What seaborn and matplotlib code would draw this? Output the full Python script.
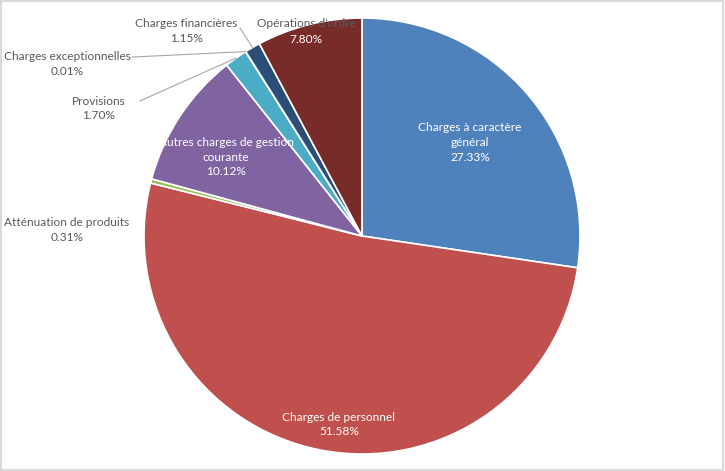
import numpy as np
import matplotlib
matplotlib.use("Agg")
import matplotlib.pyplot as plt
import seaborn as sns
from matplotlib.patches import Rectangle

# Chart data
categories = [
    "Charges à caractère\ngénéral",
    "Charges de personnel",
    "Atténuation de produits",
    "Autres charges de gestion\ncourante",
    "Provisions",
    "Charges exceptionnelles",
    "Charges financières",
    "Opérations d'ordre",
]
shares = [27.33, 51.58, 0.31, 10.12, 1.70, 0.01, 1.15, 7.80]
colors = ["#4F81BD", "#C0504D", "#9BBB59", "#8064A2",
          "#4BACC6", "#F79646", "#2C4D75", "#772C2A"]

# label layout (data units, pie radius = 1)
label_pos = [(0.495, 0.429), (-0.106, -0.865), (-1.353, 0.028), (-0.624, 0.362),
             (-1.206, 0.585), (-1.353, 0.789), (-0.807, 0.940), (-0.257, 0.940)]
label_inside = [True, True, False, True, False, False, False, "split"]
# start of leader lines for small slices
leader_start = {4: (-1.02, 0.619), 5: (-1.055, 0.821), 6: (-0.56, 0.954)}

sns.set_style("white")
plt.rcParams["font.family"] = ["Lato", "DejaVu Sans"]

fig = plt.figure(figsize=(7.25, 4.71), dpi=100)
ax = fig.add_axes([0, 0, 1, 1])

wedges, _ = ax.pie(shares, colors=colors, startangle=90, counterclock=False,
                   radius=1.0, wedgeprops=dict(edgecolor="white", linewidth=1.2))

ax.set_xlim(-362 / 218, (725 - 362) / 218)
ax.set_ylim((236 - 471) / 218, 236 / 218)
ax.set_aspect("auto")
ax.axis("off")

fs = 8.6
gray = "#595959"
for i, (name, val) in enumerate(zip(categories, shares)):
    x, y = label_pos[i]
    pct = f"{val:.2f}%"
    if label_inside[i] is True:
        ax.text(x, y, f"{name}\n{pct}", ha="center", va="center", color="white",
                fontsize=fs, linespacing=1.4)
    elif label_inside[i] == "split":
        ax.text(x, y + 0.037, name, ha="center", va="center", color=gray, fontsize=fs)
        ax.text(x, y - 0.037, pct, ha="center", va="center", color="white", fontsize=fs)
    else:
        ax.text(x, y, f"{name}\n{pct}", ha="center", va="center", color=gray,
                fontsize=fs, linespacing=1.4)

    if i in leader_start:
        w = wedges[i]
        mid = np.deg2rad((w.theta1 + w.theta2) / 2)
        ex, ey = 1.0 * np.cos(mid), 1.0 * np.sin(mid)
        sx, sy = leader_start[i]
        ax.plot([sx, ex], [sy, ey], color="#a6a6a6", linewidth=0.8)

fig.patches.append(Rectangle((0.001, 0.002), 0.996, 0.995, transform=fig.transFigure,
                             fill=False, edgecolor="#d9d9d9", linewidth=1.5))

plt.savefig("out.png", dpi=100)
plt.close()
